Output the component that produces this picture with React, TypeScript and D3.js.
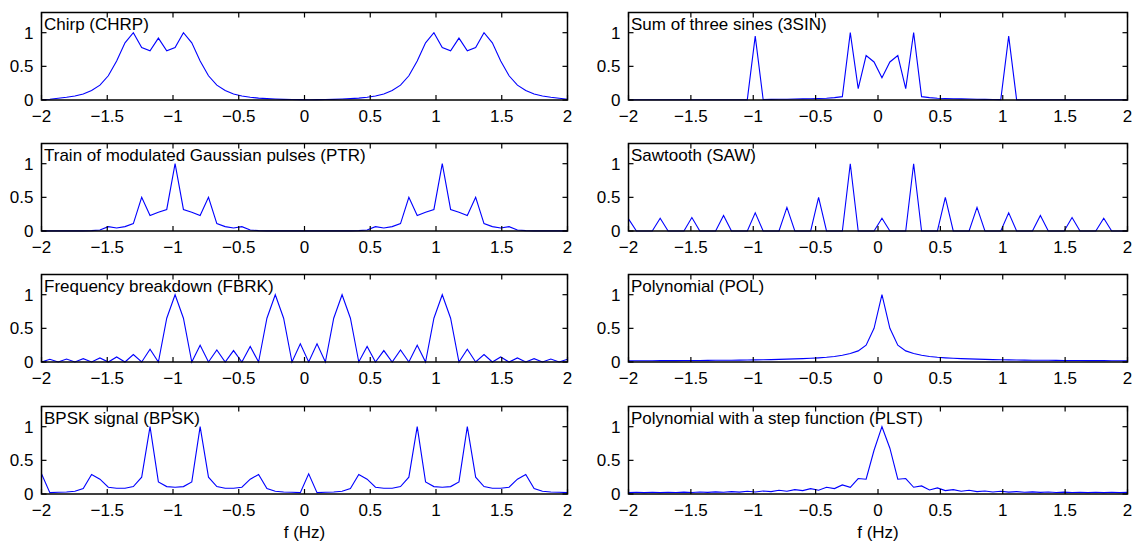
import React from "react";
import * as d3 from "d3";

const N = 64;
const freq = d3.range(N).map((i) => -2 + (4 * i) / (N - 1));

const xTicks = [-2, -1.5, -1, -0.5, 0, 0.5, 1, 1.5, 2];
const yTicks = [0, 0.5, 1];

const chrp = [
  0.005, 0.012, 0.025, 0.04, 0.06, 0.09, 0.14, 0.22, 0.36, 0.58, 0.85, 1.0, 0.78, 0.73, 0.92, 0.73,
  0.78, 1.0, 0.85, 0.58, 0.36, 0.22, 0.14, 0.09, 0.06, 0.04, 0.028, 0.02, 0.014, 0.01, 0.007, 0.005,
  0.004, 0.005, 0.007, 0.01, 0.014, 0.02, 0.028, 0.04, 0.06, 0.09, 0.14, 0.22, 0.36, 0.58, 0.85, 1.0,
  0.78, 0.73, 0.92, 0.73, 0.78, 1.0, 0.85, 0.58, 0.36, 0.22, 0.14, 0.09, 0.06, 0.04, 0.025, 0.012,
];

const sin3 = [
  0.004, 0.004, 0.004, 0.004, 0.004, 0.004, 0.004, 0.004, 0.004, 0.004, 0.004, 0.004, 0.004, 0.004, 0.004, 0.006,
  0.95, 0.008, 0.01, 0.011, 0.012, 0.014, 0.016, 0.019, 0.022, 0.027, 0.035, 0.05, 1.0, 0.17, 0.66, 0.565,
  0.33, 0.565, 0.66, 0.17, 1.0, 0.05, 0.035, 0.027, 0.022, 0.019, 0.016, 0.014, 0.012, 0.01, 0.008, 0.006,
  0.95, 0.006, 0.004, 0.004, 0.004, 0.004, 0.004, 0.004, 0.004, 0.004, 0.004, 0.004, 0.004, 0.004, 0.004, 0.004,
];

const ptr = [
  0.002, 0.002, 0.002, 0.002, 0.002, 0.002, 0.005, 0.015, 0.065, 0.045, 0.065, 0.11, 0.5, 0.23, 0.28, 0.32,
  1.0, 0.32, 0.28, 0.23, 0.5, 0.11, 0.065, 0.045, 0.065, 0.015, 0.005, 0.002, 0.002, 0.002, 0.002, 0.002,
  0.002, 0.002, 0.002, 0.002, 0.002, 0.002, 0.005, 0.015, 0.065, 0.045, 0.065, 0.11, 0.5, 0.23, 0.28, 0.32,
  1.0, 0.32, 0.28, 0.23, 0.5, 0.11, 0.065, 0.045, 0.065, 0.015, 0.005, 0.002, 0.002, 0.002, 0.002, 0.002,
];

const saw = [
  0.18, 0, 0, 0, 0.19, 0, 0, 0, 0.2, 0, 0, 0, 0.23, 0, 0, 0,
  0.27, 0, 0, 0, 0.35, 0, 0, 0, 0.5, 0, 0, 0, 1.0, 0, 0, 0,
  0.19, 0, 0, 0, 1.0, 0, 0, 0, 0.5, 0, 0, 0, 0.35, 0, 0, 0,
  0.27, 0, 0, 0, 0.23, 0, 0, 0, 0.2, 0, 0, 0, 0.19, 0, 0, 0,
];

const fbrk = [
  0, 0.04, 0, 0.045, 0, 0.05, 0, 0.06, 0, 0.075, 0, 0.11, 0, 0.19, 0, 0.65,
  1.0, 0.65, 0, 0.25, 0, 0.18, 0, 0.17, 0, 0.23, 0, 0.65, 1.0, 0.65, 0, 0.27,
  0, 0.27, 0, 0.65, 1.0, 0.65, 0, 0.23, 0, 0.17, 0, 0.18, 0, 0.25, 0, 0.65,
  1.0, 0.65, 0, 0.19, 0, 0.11, 0, 0.075, 0, 0.06, 0, 0.05, 0, 0.045, 0, 0.04,
];

const pol = [
  0.018, 0.018, 0.019, 0.019, 0.02, 0.02, 0.021, 0.022, 0.022, 0.023, 0.024, 0.025, 0.026, 0.027, 0.028, 0.03,
  0.032, 0.034, 0.036, 0.039, 0.042, 0.046, 0.05, 0.055, 0.062, 0.07, 0.082, 0.1, 0.125, 0.165, 0.25, 0.5,
  1.0, 0.5, 0.25, 0.165, 0.125, 0.1, 0.082, 0.07, 0.062, 0.055, 0.05, 0.046, 0.042, 0.039, 0.036, 0.034,
  0.032, 0.03, 0.028, 0.027, 0.026, 0.025, 0.024, 0.023, 0.022, 0.022, 0.021, 0.02, 0.02, 0.019, 0.019, 0.018,
];

const bpsk = [
  0.3, 0.02, 0.025, 0.03, 0.04, 0.08, 0.29, 0.22, 0.1, 0.085, 0.085, 0.11, 0.25, 1.0, 0.18, 0.11,
  0.1, 0.11, 0.18, 1.0, 0.25, 0.11, 0.085, 0.085, 0.1, 0.22, 0.29, 0.08, 0.04, 0.03, 0.025, 0.02,
  0.3, 0.02, 0.025, 0.03, 0.04, 0.08, 0.29, 0.22, 0.1, 0.085, 0.085, 0.11, 0.25, 1.0, 0.18, 0.11,
  0.1, 0.11, 0.18, 1.0, 0.25, 0.11, 0.085, 0.085, 0.1, 0.22, 0.29, 0.08, 0.04, 0.03, 0.025, 0.02,
];

const plst = [
  0.02, 0.025, 0.02, 0.026, 0.02, 0.027, 0.022, 0.028, 0.022, 0.03, 0.024, 0.032, 0.025, 0.035, 0.028, 0.04,
  0.03, 0.045, 0.035, 0.055, 0.04, 0.065, 0.05, 0.08, 0.055, 0.1, 0.08, 0.135, 0.1, 0.23, 0.22, 0.65,
  1.0, 0.68, 0.22, 0.23, 0.1, 0.12, 0.06, 0.09, 0.05, 0.065, 0.04, 0.055, 0.035, 0.045, 0.03, 0.04,
  0.028, 0.035, 0.025, 0.032, 0.024, 0.03, 0.022, 0.028, 0.022, 0.027, 0.02, 0.026, 0.02, 0.025, 0.02, 0.024,
];

const titles = [
  "Chirp (CHRP)",
  "Sum of three sines (3SIN)",
  "Train of modulated Gaussian pulses (PTR)",
  "Sawtooth (SAW)",
  "Frequency breakdown (FBRK)",
  "Polynomial (POL)",
  "BPSK signal (BPSK)",
  "Polynomial with a step function (PLST)",
];
const series = [chrp, sin3, ptr, saw, fbrk, pol, bpsk, plst];

const W = 1136;
const H = 548;
const colX = [
  [41.5, 567.5],
  [628.5, 1127.5],
];
const rowTop = [12.5, 143.5, 274.5, 406.5];
const rowH = 87.5;
const FONT = "'Liberation Sans', Arial, Helvetica, sans-serif";
const FS = 17;

function Panel({ idx }: { idx: number }) {
  const col = idx % 2;
  const row = Math.floor(idx / 2);
  const [x0, x1] = colX[col];
  const top = rowTop[row];
  const bottom = top + rowH;
  const x = d3.scaleLinear().domain([-2, 2]).range([x0, x1]);
  const y = d3.scaleLinear().domain([0, 1.3]).range([bottom, top]);
  const data = series[idx];
  const line = d3
    .line<number>()
    .x((_, i) => x(freq[i]))
    .y((d) => y(d));
  const tl = 5;
  const fmt = (v: number) => (v < 0 ? "\u2212" + Math.abs(v) : String(v));
  return (
    <g>
      <path d={line(data) || ""} fill="none" stroke="#0000ff" strokeWidth={1.1} />
      <rect x={x0} y={top} width={x1 - x0} height={rowH} fill="none" stroke="#000" strokeWidth={1.5} />
      {xTicks.map((t) => (
        <g key={"x" + t}>
          <line x1={x(t)} x2={x(t)} y1={bottom} y2={bottom - tl} stroke="#000" strokeWidth={1.2} />
          <line x1={x(t)} x2={x(t)} y1={top} y2={top + tl} stroke="#000" strokeWidth={1.2} />
          <text x={x(t)} y={bottom + 22} textAnchor="middle" fontSize={FS} fontFamily={FONT}>
            {fmt(t)}
          </text>
        </g>
      ))}
      {yTicks.map((t) => (
        <g key={"y" + t}>
          <line x1={x0} x2={x0 + tl} y1={y(t)} y2={y(t)} stroke="#000" strokeWidth={1.2} />
          <line x1={x1} x2={x1 - tl} y1={y(t)} y2={y(t)} stroke="#000" strokeWidth={1.2} />
          <text x={x0 - 8} y={y(t) + 6} textAnchor="end" fontSize={FS} fontFamily={FONT}>
            {fmt(t)}
          </text>
        </g>
      ))}
      <text x={x0 + 2.5} y={top + 17.5} fontSize={FS} fontFamily={FONT}>
        {titles[idx]}
      </text>
      {row === 3 && (
        <text x={(x0 + x1) / 2} y={bottom + 44} textAnchor="middle" fontSize={FS} fontFamily={FONT}>
          f (Hz)
        </text>
      )}
    </g>
  );
}

export default function App() {
  return (
    <svg
      width={W}
      height={H}
      style={{ position: "absolute", left: 0, top: 0, background: "#fff" }}
    >
      <rect x={0} y={0} width={W} height={H} fill="#fff" />
      {series.map((_, i) => (
        <Panel key={i} idx={i} />
      ))}
    </svg>
  );
}
